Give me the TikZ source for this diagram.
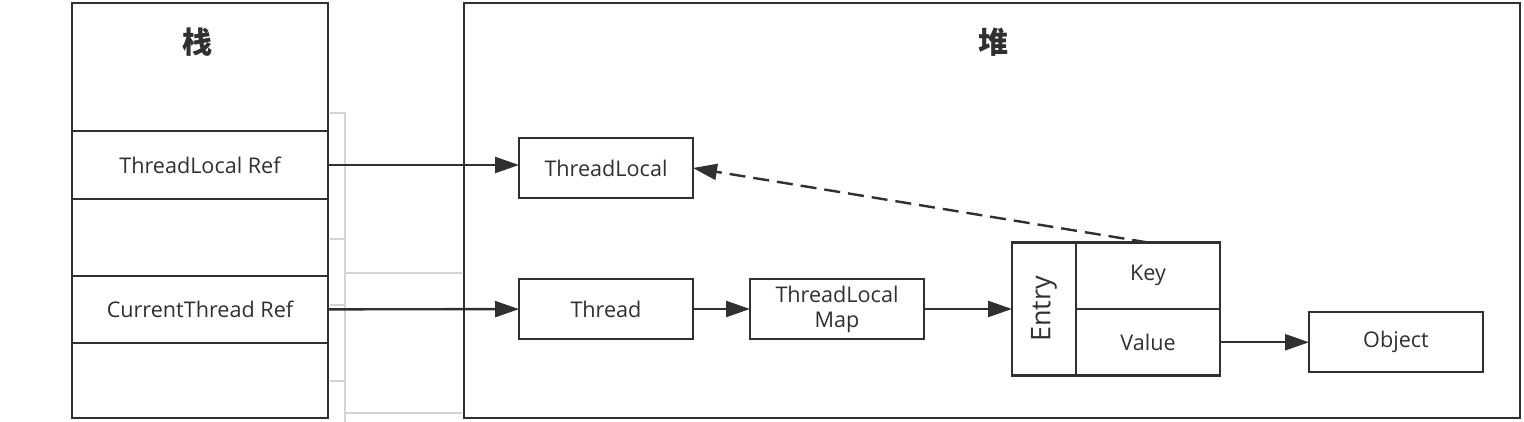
\documentclass[tikz,border=0pt]{standalone}
\usepackage{fontspec}
\setmainfont{Open Sans}
\newfontfamily\cjk{Noto Sans CJK SC}
\usetikzlibrary{arrows.meta, positioning}
\definecolor{ink}{HTML}{303030}
\definecolor{faint}{HTML}{D4D4D4}

\begin{document}
\begin{tikzpicture}[
  x=0.5pt, y=-0.5pt,
  font=\fontsize{10.8}{12.5}\selectfont,
  text=ink,
  cell/.style={
    draw=ink, line width=1.4pt, inner sep=0pt, outer sep=0pt,
    minimum width=128pt
  },
  obj/.style={
    draw=ink, line width=1.2pt, align=center, inner sep=2pt, outer sep=0pt,
    minimum width=87pt, minimum height=30pt
  },
  title/.style={font=\cjk\bfseries\fontsize{15}{18}\selectfont},
  ref/.style ={-{Triangle[length=12pt, width=8pt]}, draw=ink, line width=1.2pt},
  weak/.style={ref, dash pattern=on 8pt off 4pt},
  bg/.style  ={draw=faint, line width=1pt}
]

\useasboundingbox (0,0) rectangle (1524,422);

% faint lines left over between the two regions
\draw[bg] (330,113) -- (345,113) -- (345,422);
\foreach \y in {239,305,381} \draw[bg] (330,\y) -- (345,\y);
\foreach \y in {273,413} \draw[bg] (345,\y) -- (462,\y);

% stack: one column of cells, top to bottom
\node[cell, minimum height=64pt, anchor=north west] (top) at (72,3) {};
\node[cell, minimum height=34pt, below=0pt of top] (tlref)    {ThreadLocal Ref};
\node[cell, minimum height=38.5pt, below=0pt of tlref] (gap)  {};
\node[cell, minimum height=33.5pt, below=0pt of gap] (ctref)  {CurrentThread Ref};
\node[cell, minimum height=37.5pt, below=0pt of ctref] (bottom) {};
\node[title] (stack) at (197,42) {栈};

% heap
\node[cell, minimum width=528pt, minimum height=207.5pt, anchor=north west] (heap) at (464,3) {};
\node[title] (heaptitle) at (993,42) {堆};

\node[obj] (tl) at (606,168)                {ThreadLocal};
\node[obj] (thread) at (606,309)            {Thread};
\node[obj, right=28.5pt of thread] (tlmap)  {ThreadLocal\\Map};

\node[obj, minimum width=32pt, minimum height=66.5pt, right=44pt of tlmap] (entry)
  {\rotatebox{90}{\fontsize{13.5}{15}\selectfont Entry}};
\node[obj, minimum width=72pt, minimum height=33.25pt, anchor=north west] (key) at (entry.north east) {Key};
\node[obj, minimum width=72pt, minimum height=33.25pt, anchor=north west] (value) at (key.south west) {Value};
\node[obj, right=44.5pt of value] (object)  {Object};

\draw[ref]  (tlref) -- (tlref -| tl.west);
\draw[ref]  (ctref) -- (thread);
\draw[ref]  (thread) -- (tlmap);
\draw[ref]  (tlmap) -- (entry);
\draw[ref]  (value) -- (object);
\draw[weak] (key.north) -- (tl.east);

\end{tikzpicture}
\end{document}
